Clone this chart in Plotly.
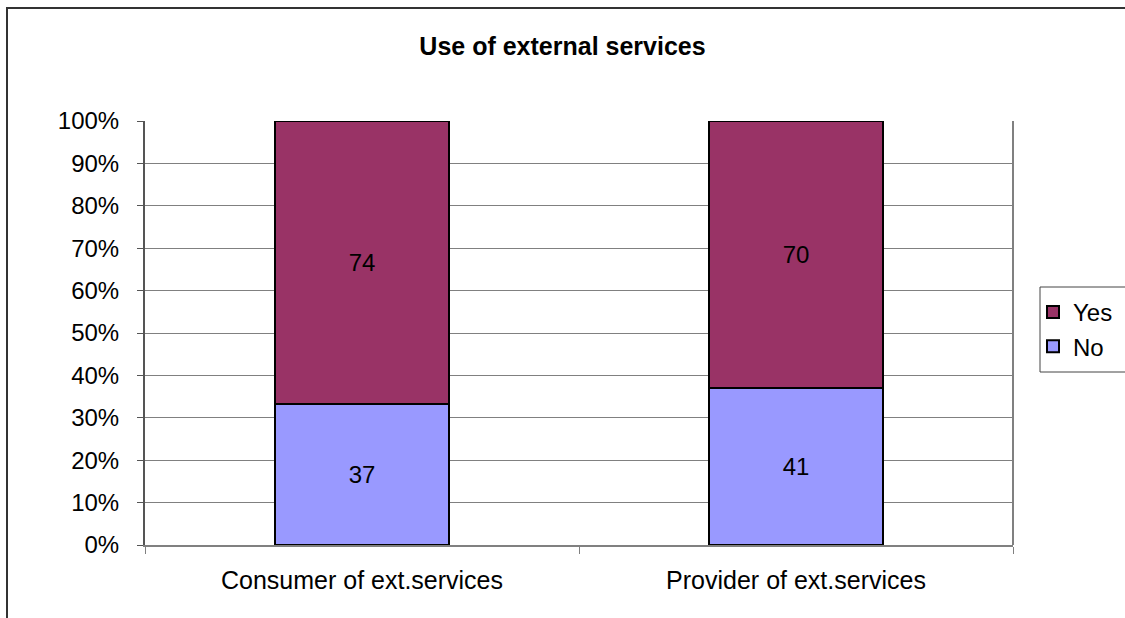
import plotly.graph_objects as go

categories = ["Consumer of ext.services", "Provider of ext.services"]
no_values = [37, 41]
yes_values = [74, 70]
y_ticks = [0, 10, 20, 30, 40, 50, 60, 70, 80, 90, 100]
y_tick_labels = [f"{v}%" for v in y_ticks]

W, H = 1125, 618
ml, mr, mt, mb = 145, 112, 121, 73
pw, ph = W - ml - mr, H - mt - mb

def px_x(x):
    return (x - ml) / pw

def px_y(y):
    return (H - mb - y) / ph

fig = go.Figure()
fig.add_trace(go.Bar(
    name="No", x=categories, y=no_values, text=no_values, legendrank=2,
    marker=dict(color="#9999FF", line=dict(color="black", width=2)),
    textposition="inside", insidetextanchor="middle",
    textfont=dict(color="black", size=24), hoverinfo="skip",
))
fig.add_trace(go.Bar(
    name="Yes", x=categories, y=yes_values, text=yes_values, legendrank=1,
    marker=dict(color="#993366", line=dict(color="black", width=2)),
    textposition="inside", insidetextanchor="middle",
    textfont=dict(color="black", size=24), hoverinfo="skip",
))

# outer chart border (extends past the right/bottom edge like the reference)
fig.add_shape(type="rect", xref="paper", yref="paper",
              x0=px_x(7), x1=px_x(W + 20), y0=px_y(H + 20), y1=px_y(8),
              line=dict(color="#333333", width=2), layer="below")
# plot area right border
fig.add_shape(type="line", xref="paper", yref="paper",
              x0=1, x1=1, y0=0, y1=1,
              line=dict(color="#808080", width=2))
# legend box
fig.add_shape(type="rect", xref="paper", yref="paper",
              x0=px_x(1040), x1=px_x(W + 20), y0=px_y(372), y1=px_y(287),
              line=dict(color="#444444", width=1), fillcolor="white", layer="below")

fig.update_layout(
    width=W, height=H,
    margin=dict(l=ml, r=mr, t=mt, b=mb, autoexpand=False),
    barmode="stack", barnorm="percent", bargap=0.6,
    plot_bgcolor="white", paper_bgcolor="white",
    font=dict(family="Liberation Sans, Arial, sans-serif", size=24, color="black"),
    title=dict(text="<b>Use of external services</b>", x=0.5, xanchor="center",
               y=1 - 46 / H, yanchor="middle",
               font=dict(size=25, color="black")),
    showlegend=True,
    legend=dict(x=px_x(1033), y=px_y(290), xanchor="left", yanchor="top",
                traceorder="normal", borderwidth=0,
                bgcolor="rgba(0,0,0,0)", font=dict(size=24), itemwidth=30,
                tracegroupgap=0),
    xaxis=dict(type="category", showgrid=False, showline=True, linecolor="#808080",
               linewidth=2, ticks="outside", tickson="boundaries", ticklen=7,
               tickcolor="#808080", tickfont=dict(size=25), range=[-0.5, 1.5],
               ticklabelstandoff=12),
    yaxis=dict(range=[0, 100], tickvals=y_ticks, ticktext=y_tick_labels,
               showgrid=True, gridcolor="#808080", gridwidth=1,
               showline=True, linecolor="#555555", linewidth=2,
               ticks="outside", ticklen=6, tickcolor="#555555",
               tickfont=dict(size=24), zeroline=False, ticklabelstandoff=13),
)

fig.write_html("out.html")
